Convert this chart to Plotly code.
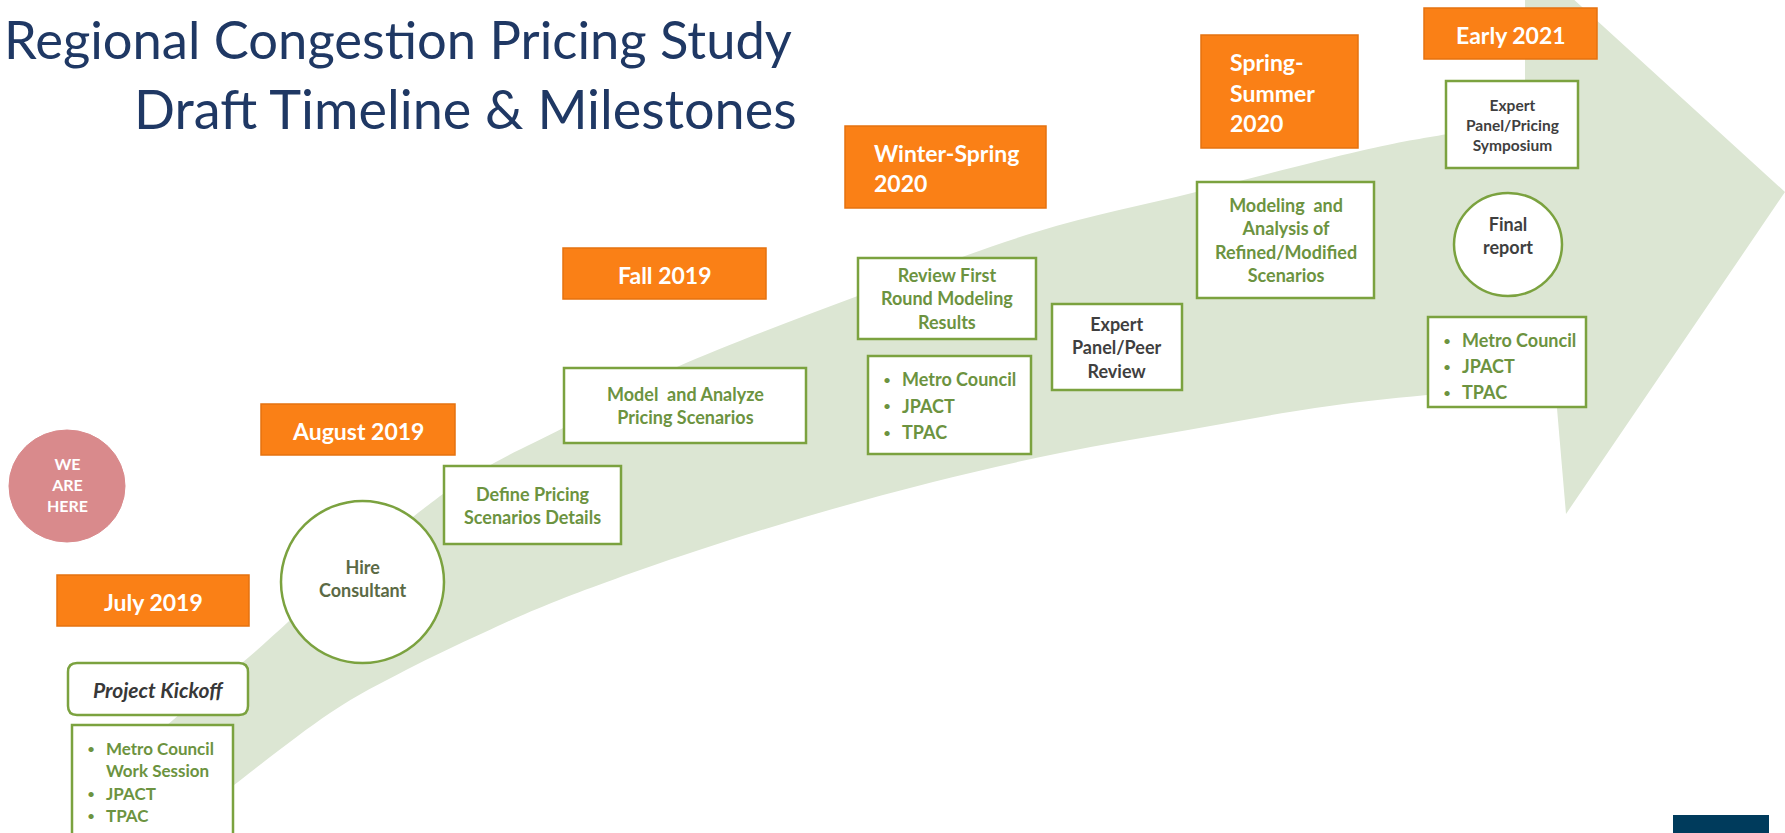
import plotly.graph_objects as go

W, H = 1785, 833

# ---------------- data (diagram content) ----------------
TITLE_LINES = ["Regional Congestion Pricing Study", "Draft Timeline & Milestones"]

# period labels (orange boxes): text lines, box [x0,x1,y0,y1]
PERIOD_LABELS = [["July 2019"], ["August 2019"], ["Fall 2019"],
                 ["Winter-Spring", "2020"], ["Spring-", "Summer", "2020"], ["Early 2021"]]
PERIOD_BOXES = [[57, 249, 575, 626], [261, 455, 404, 455], [563, 766, 248, 299],
                [845, 1046, 126, 208], [1201, 1358, 35, 148], [1424, 1597, 8, 59]]

# milestone boxes (green outline)
STEP_LABELS = ["Define Pricing<br>Scenarios Details",
               "Model  and Analyze<br>Pricing Scenarios",
               "Review First<br>Round Modeling<br>Results",
               "Expert<br>Panel/Peer<br>Review",
               "Modeling  and<br>Analysis of<br>Refined/Modified<br>Scenarios",
               "Expert<br>Panel/Pricing<br>Symposium"]
STEP_BOXES = [[444, 621, 466, 544], [564, 806, 368, 443], [858, 1036, 258, 339],
              [1052, 1182, 304, 390], [1197, 1374, 182, 298], [1446, 1578, 81, 168]]
STEP_DARK = [False, False, False, True, False, True]
STEP_SIZES = [18, 18, 18, 18, 18, 15.5]

# circle milestones
CIRCLE_LABELS = ["Hire<br>Consultant", "Final<br>report"]
CIRCLE_BOXES = [[281, 444, 501, 663], [1454, 1562, 193, 296]]

# committee lists
LIST_ITEMS = [["Metro Council", "Work Session", "JPACT", "TPAC"],
              ["Metro Council", "JPACT", "TPAC"],
              ["Metro Council", "JPACT", "TPAC"]]
LIST_BULLETS = [[True, False, True, True], [True, True, True], [True, True, True]]
LIST_BOXES = [[72, 233, 725, 845], [868, 1031, 356, 454], [1428, 1586, 317, 407]]
LIST_SIZES = [17, 18, 18]
LIST_GAPS = [22.5, 26.5, 26]

# arrow outline
ARROW_UPPER = [(100, 785), (173, 720), (249, 657), (330, 585), (435, 500), (494, 463),
               (565, 427), (677, 367), (855, 297), (1036, 232), (1196, 192), (1360, 151),
               (1448, 134), (1525, 123)]
ARROW_HEAD = [(1525, -45), (1785, 192), (1566, 514), (1555, 385)]
ARROW_LOWER = [(1555, 385), (1427, 395), (1315, 408), (1188, 430), (1060, 453), (933, 482),
               (805, 517), (678, 557), (559, 600), (483, 633), (406, 670), (330, 713),
               (234, 785), (174, 833)]

# colours
ORANGE = "#fa8016"
ORANGE_EDGE = "#e5720f"
GREEN_EDGE = "#7ba23f"
GREEN_TEXT = "#6c9340"
DARK_TEXT = "#3f3f3f"
ARROW_FILL = "#dce6d3"
NAVY = "#1f3864"
FONT = "Lato"


def smooth_path(pts):
    """Catmull-Rom -> cubic bezier path segments (without initial M)."""
    segs = []
    n = len(pts)
    for i in range(n - 1):
        p0 = pts[i - 1] if i > 0 else pts[i]
        p1 = pts[i]
        p2 = pts[i + 1]
        p3 = pts[i + 2] if i + 2 < n else pts[i + 1]
        c1 = (p1[0] + (p2[0] - p0[0]) / 6, p1[1] + (p2[1] - p0[1]) / 6)
        c2 = (p2[0] - (p3[0] - p1[0]) / 6, p2[1] - (p3[1] - p1[1]) / 6)
        segs.append(f"C {c1[0]:.1f},{c1[1]:.1f} {c2[0]:.1f},{c2[1]:.1f} {p2[0]:.1f},{p2[1]:.1f}")
    return " ".join(segs)


fig = go.Figure()

# ---------------- arrow ----------------
path = f"M {ARROW_UPPER[0][0]},{ARROW_UPPER[0][1]} " + smooth_path(ARROW_UPPER)
for p in ARROW_HEAD:
    path += f" L {p[0]},{p[1]}"
path += " " + smooth_path(ARROW_LOWER) + " Z"
fig.add_shape(type="path", path=path, fillcolor=ARROW_FILL, line=dict(width=0),
              xref="x", yref="y", layer="below")

# ---------------- title ----------------
fig.add_annotation(x=794, y=38, text=TITLE_LINES[0], showarrow=False, xanchor="right",
                   yanchor="middle", font=dict(family=FONT, size=52.5, color=NAVY))
fig.add_annotation(x=799, y=108, text=TITLE_LINES[1], showarrow=False, xanchor="right",
                   yanchor="middle", font=dict(family=FONT, size=54, color=NAVY))

# ---------------- WE ARE HERE ----------------
fig.add_shape(type="circle", x0=9, x1=125, y0=430, y1=542, fillcolor="#d98a8c",
              line=dict(color="#d98a8c", width=1))
fig.add_annotation(x=67, y=484, text="<b>WE<br>ARE<br>HERE</b>", showarrow=False,
                   font=dict(family=FONT, size=16, color="white"), align="center")

# ---------------- orange period boxes ----------------
for lines, (x0, x1, y0, y1) in zip(PERIOD_LABELS, PERIOD_BOXES):
    fig.add_shape(type="rect", x0=x0, x1=x1, y0=y0, y1=y1, fillcolor=ORANGE,
                  line=dict(color=ORANGE_EDGE, width=1.5))
    if len(lines) == 1:
        fig.add_annotation(x=(x0 + x1) / 2, y=(y0 + y1) / 2 + 1, text=f"<b>{lines[0]}</b>",
                           showarrow=False, font=dict(family=FONT, size=23, color="white"))
    else:
        n = len(lines)
        gap = 30.5
        yc = (y0 + y1) / 2 + 1
        for k, t in enumerate(lines):
            fig.add_annotation(x=x0 + 27, y=yc + (k - (n - 1) / 2) * gap, text=f"<b>{t}</b>",
                               showarrow=False, xanchor="left",
                               font=dict(family=FONT, size=23, color="white"))

# ---------------- Project Kickoff (rounded) ----------------
kx0, kx1, ky0, ky1, r = 68, 248, 663, 715, 9
kpath = (f"M {kx0+r},{ky0} L {kx1-r},{ky0} Q {kx1},{ky0} {kx1},{ky0+r} "
         f"L {kx1},{ky1-r} Q {kx1},{ky1} {kx1-r},{ky1} L {kx0+r},{ky1} "
         f"Q {kx0},{ky1} {kx0},{ky1-r} L {kx0},{ky0+r} Q {kx0},{ky0} {kx0+r},{ky0} Z")
fig.add_shape(type="path", path=kpath, fillcolor="white", line=dict(color=GREEN_EDGE, width=2.5))
fig.add_annotation(x=(kx0 + kx1) / 2, y=(ky0 + ky1) / 2, text="<b><i>Project Kickoff</i></b>",
                   showarrow=False, font=dict(family=FONT, size=21, color="#383838"))

# ---------------- milestone boxes ----------------
for label, (x0, x1, y0, y1), dark, sz in zip(STEP_LABELS, STEP_BOXES, STEP_DARK, STEP_SIZES):
    fig.add_shape(type="rect", x0=x0, x1=x1, y0=y0, y1=y1, fillcolor="white",
                  line=dict(color=GREEN_EDGE, width=2.5))
    fig.add_annotation(x=(x0 + x1) / 2, y=(y0 + y1) / 2, text=f"<b>{label}</b>",
                       showarrow=False, align="center",
                       font=dict(family=FONT, size=sz, color=DARK_TEXT if dark else GREEN_TEXT))

# ---------------- circles ----------------
for label, (x0, x1, y0, y1), col, dy in zip(CIRCLE_LABELS, CIRCLE_BOXES,
                                            ["#5b6a45", DARK_TEXT], [-4, -9]):
    fig.add_shape(type="circle", x0=x0, x1=x1, y0=y0, y1=y1, fillcolor="white",
                  line=dict(color=GREEN_EDGE, width=2.5))
    fig.add_annotation(x=(x0 + x1) / 2, y=(y0 + y1) / 2 + dy, text=f"<b>{label}</b>",
                       showarrow=False, align="center",
                       font=dict(family=FONT, size=18, color=col))

# ---------------- committee lists ----------------
for items, bullets, (x0, x1, y0, y1), gap, sz in zip(LIST_ITEMS, LIST_BULLETS, LIST_BOXES,
                                                     LIST_GAPS, LIST_SIZES):
    fig.add_shape(type="rect", x0=x0, x1=x1, y0=y0, y1=y1, fillcolor="white",
                  line=dict(color=GREEN_EDGE, width=2.5))
    ytop = y0 + 23
    for k, (t, b) in enumerate(zip(items, bullets)):
        yy = ytop + k * gap
        if b:
            fig.add_annotation(x=x0 + 13, y=yy, text="•", showarrow=False, xanchor="left",
                               font=dict(family=FONT, size=14, color=GREEN_TEXT))
        fig.add_annotation(x=x0 + 32, y=yy, text=f"<b>{t}</b>", showarrow=False,
                           xanchor="left", font=dict(family=FONT, size=sz, color=GREEN_TEXT))

# ---------------- navy corner block ----------------
fig.add_shape(type="rect", x0=1673, x1=1769, y0=815, y1=840, fillcolor="#003b5c",
              line=dict(width=0))

fig.update_layout(
    width=W, height=H, margin=dict(l=0, r=0, t=0, b=0),
    paper_bgcolor="white", plot_bgcolor="white", showlegend=False,
    xaxis=dict(range=[0, W], visible=False, fixedrange=True),
    yaxis=dict(range=[H, 0], visible=False, fixedrange=True),
)

fig.write_html("out.html", config={"displayModeBar": False},
               post_script="document.body.style.margin='0';document.body.style.overflow='hidden';")
